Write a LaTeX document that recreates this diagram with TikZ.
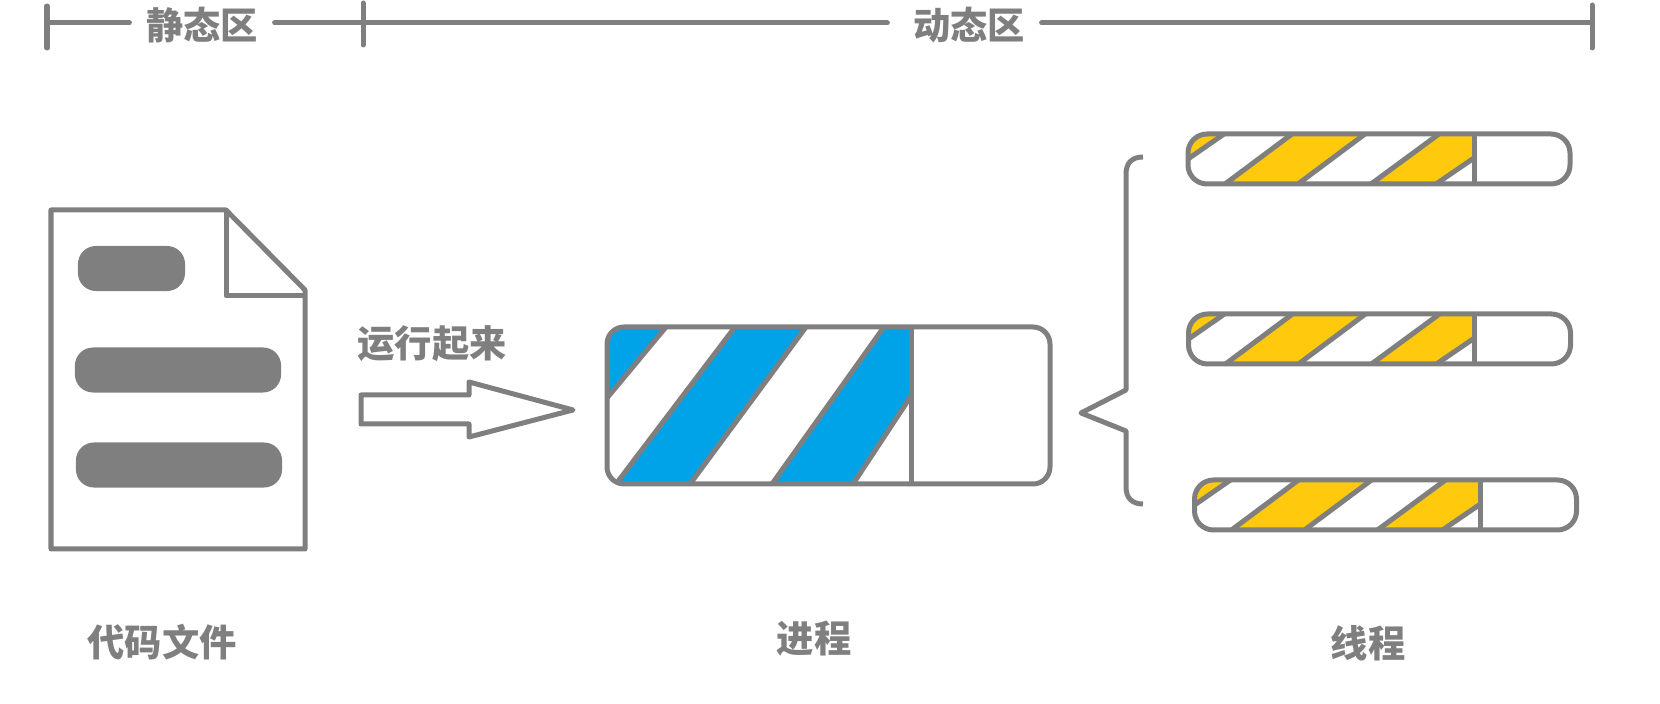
\documentclass[tikz,border=0pt]{standalone}
\usepackage{fontspec}
\usepackage{xcolor}
\newfontfamily\cjk{Noto Sans CJK SC}
\usetikzlibrary{positioning}
\definecolor{linegray}{HTML}{7F7F7F}
\definecolor{procblue}{HTML}{00A2E8}
\definecolor{threadyellow}{HTML}{FFC90E}
\tikzset{
  outline/.style={draw=linegray, line width=0.05cm, line join=round},
  caption/.style={text=linegray, font=\cjk\bfseries\fontsize{10.6}{12}\selectfont, inner sep=0pt},
  headcap/.style={caption, inner xsep=0.16cm},
  headline/.style={linegray, line width=0.05cm, line cap=round},
  docbar/.style={fill=linegray, rounded corners=0.18cm, inner sep=0pt, minimum height=0.45cm}
}

\begin{document}
\begin{tikzpicture}[x=0.01cm, y=-0.01cm]
\useasboundingbox (0,0) rectangle (1660,704);

% Header scale
\coordinate (tickstart) at (47,23);
\coordinate (tickmid) at (363,23);
\coordinate (tickend) at (1592,23);
\node[headcap] (static) at (202,25) {静态区};
\node[headcap] (dynamic) at (969,25) {动态区};
\draw[headline] (tickstart) -- (tickstart -| static.west);
\draw[headline] (tickmid -| static.east) -- (tickmid);
\draw[headline] (tickmid) -- ([xshift=-0.09cm]tickmid -| dynamic.west);
\draw[headline] (tickend -| dynamic.east) -- (tickend);
\draw[headline] (47,6) -- (47,48);
\draw[headline] (363,3) -- (363,45);
\draw[headline] (1592,5) -- (1592,48);

% Code file
\draw[outline] (51,210) -- (226,210) -- (305,290) -- (305,549) -- (51,549) -- cycle;
\draw[outline] (226,210) -- (226,296) -- (305,296);
\node[docbar, minimum width=1.07cm] (barone) at (131.5,268.5) {};
\node[docbar, minimum width=2.06cm] (bartwo) at (178,370) {};
\node[docbar, minimum width=2.06cm] (barthree) at (179,465) {};

% Run arrow
\node[caption] (run) at (432,344) {运行起来};
\draw[outline] (361,395) -- (469,395) -- (469,382) -- (573,410) -- (469,437) -- (469,424) -- (361,424) -- cycle;

% Process
\begin{scope}
\clip[rounded corners=0.17cm] (607,327) rectangle (1050,484);
\fill[procblue] (607,327) -- (666,327) -- (607,398) -- cycle;
\fill[procblue] (735,327) -- (806,327) -- (690,484) -- (616,484) -- cycle;
\fill[procblue] (884,327) -- (911,327) -- (911,396) -- (853,484) -- (772,484) -- cycle;
\draw[outline] (666,327) -- (607,398);
\draw[outline] (735,327) -- (616,484);
\draw[outline] (806,327) -- (690,484);
\draw[outline] (884,327) -- (772,484);
\draw[outline] (911,396) -- (853,484);
\draw[outline] (911,327) -- (911,484);
\end{scope}
\draw[outline, rounded corners=0.17cm] (607,327) rectangle (1050,484);

% Brace
\draw[outline] (1143,157) .. controls (1132,157) and (1126,163) .. (1126,174) -- (1126,390) -- (1081,413) -- (1126,431) -- (1126,487) .. controls (1126,498) and (1132,504) .. (1143,504);

% Threads
\foreach \dx/\dy in {0/0, 0.5/180, 6.5/346} {
\begin{scope}[shift={(\dx,\dy)}]
\begin{scope}
\clip[rounded corners=0.19cm] (1188,134) rectangle (1570,184);
\fill[threadyellow] (1188,134) -- (1224,134) -- (1188,159) -- cycle;
\fill[threadyellow] (1292,134) -- (1365,134) -- (1298,184) -- (1225,184) -- cycle;
\fill[threadyellow] (1439,134) -- (1474,134) -- (1474,158) -- (1436,184) -- (1371,184) -- cycle;
\draw[outline] (1224,134) -- (1188,159);
\draw[outline] (1292,134) -- (1225,184);
\draw[outline] (1365,134) -- (1298,184);
\draw[outline] (1439,134) -- (1371,184);
\draw[outline] (1474,158) -- (1436,184);
\draw[outline] (1474,134) -- (1474,184);
\end{scope}
\draw[outline, rounded corners=0.19cm] (1188,134) rectangle (1570,184);
\end{scope}
}

% Captions
\node[caption] (codefile) at (162,642) {代码文件};
\node[caption] (process) at (814,639) {进程};
\node[caption] (thread) at (1368,643) {线程};
\end{tikzpicture}
\end{document}
